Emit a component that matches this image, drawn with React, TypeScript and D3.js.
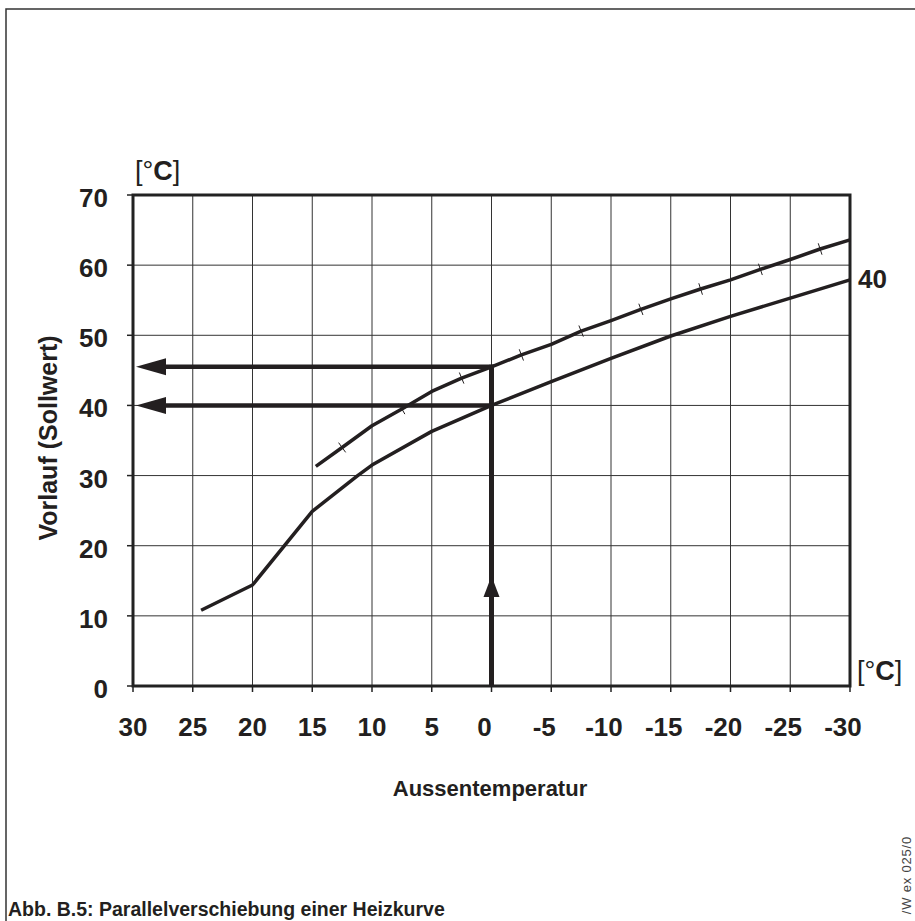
import React from 'react';
import * as d3 from 'd3';

const width = 915;
const height = 921;

// Aussentemperatur ticks (x) and Vorlauf ticks (y)
const xTicks = [30, 25, 20, 15, 10, 5, 0, -5, -10, -15, -20, -25, -30];
const yTicks = [0, 10, 20, 30, 40, 50, 60, 70];

// base heating curve
const baseTemp = [24.3, 20, 15, 11.2, 10, 5, 0, -5, -10, -15, -20, -25, -30];
const baseFlow = [10.8, 14.4, 24.9, 30.0, 31.5, 36.3, 40, 43.4, 46.7, 49.9, 52.7, 55.3, 57.9];

// parallel shifted curve
const shiftTemp = [14.7, 12.5, 10, 7.5, 5, 2.5, 0, -2.5, -5, -7.5, -10, -12.5, -15, -17.5, -20, -22.5, -25, -27.5, -30];
const shiftFlow = [31.3, 34.0, 37.1, 39.5, 42.0, 43.9, 45.5, 47.2, 48.7, 50.6, 52.1, 53.7, 55.2, 56.6, 57.9, 59.4, 60.8, 62.3, 63.6];
const shiftMarks = [12.5, 7.5, 2.5, -2.5, -7.5, -12.5, -17.5, -22.5, -27.5];

// read-off annotation
const outdoorTemp = 0;
const setpoints = [45.5, 40];
const upArrowAt = 15.7;
const curveLabel = '40';

const font = '"Liberation Sans", Arial, sans-serif';

const x = d3.scaleLinear().domain([30, -30]).range([133, 850]);
const y = d3.scaleLinear().domain([0, 70]).range([686, 195]);

const line = d3
  .line<[number, number]>()
  .x((d) => x(d[0]))
  .y((d) => y(d[1]));

const basePts: [number, number][] = baseTemp.map((t, i) => [t, baseFlow[i]]);
const shiftPts: [number, number][] = shiftTemp.map((t, i) => [t, shiftFlow[i]]);

export default function App() {
  const x0 = x(outdoorTemp);
  const left = x(30);
  const right = x(-30);
  const bottom = y(0);
  const top = y(70);

  // small cross marks on the shifted curve, perpendicular to it
  const marks = shiftMarks.map((t) => {
    const i = shiftTemp.indexOf(t);
    const a = shiftPts[Math.max(0, i - 1)];
    const b = shiftPts[Math.min(shiftPts.length - 1, i + 1)];
    const dx = x(b[0]) - x(a[0]);
    const dy = y(b[1]) - y(a[1]);
    const len = Math.hypot(dx, dy);
    const nx = -dy / len;
    const ny = dx / len;
    const cx = x(t);
    const cy = y(shiftFlow[i]);
    return { x1: cx - nx * 6, y1: cy - ny * 6, x2: cx + nx * 6, y2: cy + ny * 6 };
  });

  const yTop = y(setpoints[0]);
  const tipY = y(upArrowAt);

  return (
    <svg
      width={width}
      height={height}
      viewBox={`0 0 ${width} ${height}`}
      style={{ position: 'absolute', left: 0, top: 0, background: '#fff' }}
      fontFamily={font}
    >
      {/* page frame */}
      <path d={`M6,${height} V9 H${width}`} fill="none" stroke="#333" strokeWidth={1.5} />

      {/* grid */}
      <g stroke="#333" strokeWidth={1}>
        {xTicks.map((t) => (
          <line key={'gx' + t} x1={x(t)} x2={x(t)} y1={top} y2={bottom} />
        ))}
        {yTicks.map((t) => (
          <line key={'gy' + t} x1={left} x2={right} y1={y(t)} y2={y(t)} />
        ))}
      </g>
      {/* ticks */}
      <g stroke="#222" strokeWidth={1.5}>
        {yTicks.map((t) => (
          <line key={'ty' + t} x1={left - 6} x2={left} y1={y(t)} y2={y(t)} />
        ))}
        {xTicks.map((t) => (
          <line key={'tx' + t} x1={x(t)} x2={x(t)} y1={bottom} y2={bottom + 6} />
        ))}
      </g>
      {/* frame of the plot */}
      <rect x={left} y={top} width={right - left} height={bottom - top} fill="none" stroke="#222" strokeWidth={3} />

      {/* curves */}
      <path d={line(basePts) ?? ''} fill="none" stroke="#231f20" strokeWidth={3.5} strokeLinejoin="round" />
      <path d={line(shiftPts) ?? ''} fill="none" stroke="#231f20" strokeWidth={3.5} strokeLinejoin="round" />
      <g stroke="#231f20" strokeWidth={1}>
        {marks.map((m, i) => (
          <line key={'m' + i} {...m} />
        ))}
      </g>

      {/* read-off arrows */}
      <g stroke="#231f20" fill="#231f20">
        <line x1={x0} x2={x0} y1={bottom} y2={yTop - 2} strokeWidth={5} />
        <path d={`M${x0},${tipY} L${x0 - 8},${tipY + 21} L${x0 + 8},${tipY + 21} Z`} stroke="none" />
        {setpoints.map((v) => (
          <g key={'a' + v}>
            <line x1={x0 + 2.5} x2={left + 25} y1={y(v)} y2={y(v)} strokeWidth={4.5} />
            <path d={`M${left + 3},${y(v)} L${left + 33},${y(v) - 8.5} L${left + 33},${y(v) + 8.5} Z`} stroke="none" />
          </g>
        ))}
      </g>

      {/* tick labels */}
      <g fontSize={26} fontWeight="bold" fill="#231f20">
        {yTicks.map((t) => (
          <text key={'ly' + t} x={108} y={y(t) + 12} textAnchor="end">
            {t}
          </text>
        ))}
        {xTicks.map((t) => (
          <text key={'lx' + t} x={x(t) + (t <= 0 ? -7 : 0)} y={bottom + 50} textAnchor="middle">
            {t}
          </text>
        ))}
        <text x={right + 8} y={y(baseFlow[baseFlow.length - 1]) + 8}>
          {curveLabel}
        </text>
      </g>

      {/* units */}
      <text x={135} y={180} fontSize={27} fill="#231f20">
        [°<tspan fontWeight="bold">C</tspan>]
      </text>
      <text x={857} y={680} fontSize={27} fill="#231f20">
        [°<tspan fontWeight="bold">C</tspan>]
      </text>

      {/* axis titles */}
      <text
        transform={`translate(57,438) rotate(-90)`}
        textAnchor="middle"
        fontSize={25}
        fontWeight="bold"
        fill="#231f20"
      >
        Vorlauf (Sollwert)
      </text>
      <text x={490} y={796} textAnchor="middle" fontSize={22} fontWeight="bold" fill="#231f20">
        Aussentemperatur
      </text>

      {/* caption */}
      <text x={8} y={916} fontSize={19.5} fontWeight="bold" fill="#231f20">
        Abb. B.5: Parallelverschiebung einer Heizkurve
      </text>
      <text
        transform={`translate(911,836) rotate(-90)`}
        textAnchor="end"
        fontSize={13}
        letterSpacing={0.8}
        fill="#444"
      >
        /W ex 025/0
      </text>
    </svg>
  );
}
